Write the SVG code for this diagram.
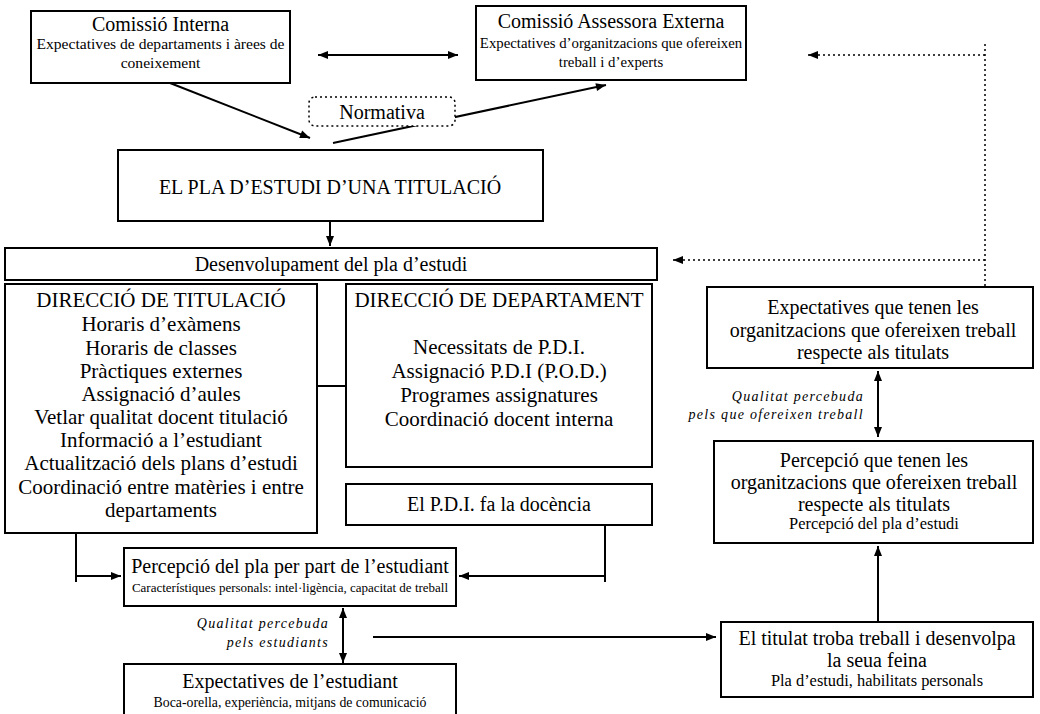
<svg xmlns="http://www.w3.org/2000/svg" width="1040" height="714" viewBox="0 0 1040 714">
<defs>
<marker id="ah" viewBox="0 0 10 10" refX="10" refY="5" markerWidth="11" markerHeight="10" markerUnits="userSpaceOnUse" orient="auto-start-reverse"><path d="M0,1 L10,5 L0,9 z" fill="#000"/></marker>
</defs>
<style>
.box{fill:#fff;stroke:#000;stroke-width:2}
.nb{fill:#fff;stroke:#000;stroke-width:1.5;stroke-dasharray:2 3}
text{font-family:"Liberation Serif","Times New Roman",serif;fill:#000;text-anchor:middle}
.l{font-size:20px}
.x{font-size:21px}
.s{font-size:15.6px}
.se{font-size:14.8px}
.m{font-size:16.4px}
.ss{font-size:13px}
.sb{font-size:13.8px}
.i{font-size:14px;font-style:italic;text-anchor:end;letter-spacing:1.3px}
.c{stroke:#000;stroke-width:2;fill:none}
.d{stroke:#000;stroke-width:1.5;fill:none;stroke-dasharray:2 3}
</style>
<rect width="1040" height="714" fill="#fff"/>
<g id="connectors">
<line class="c" x1="318" y1="55" x2="458" y2="55" marker-start="url(#ah)" marker-end="url(#ah)"/>
<line class="c" x1="170" y1="83" x2="310" y2="138" marker-end="url(#ah)"/>
<line class="c" x1="333" y1="143" x2="606" y2="85" marker-end="url(#ah)"/>
<line class="c" x1="330" y1="221" x2="330" y2="246" marker-end="url(#ah)"/>
<line class="d" x1="985" y1="44" x2="985" y2="286"/>
<line class="d" x1="985" y1="55" x2="808" y2="55" marker-end="url(#ah)"/>
<line class="d" x1="985" y1="260" x2="673" y2="260" marker-end="url(#ah)"/>
<line class="c" x1="300" y1="386" x2="367" y2="386" marker-start="url(#ah)" marker-end="url(#ah)"/>
<line class="c" x1="76" y1="533" x2="76" y2="582"/>
<line class="c" x1="76" y1="576" x2="121" y2="576" marker-end="url(#ah)"/>
<line class="c" x1="605" y1="525" x2="605" y2="582"/>
<line class="c" x1="605" y1="576" x2="459" y2="576" marker-end="url(#ah)"/>
<line class="c" x1="343" y1="608" x2="343" y2="663" marker-start="url(#ah)" marker-end="url(#ah)"/>
<line class="c" x1="373" y1="637" x2="716" y2="637" marker-end="url(#ah)"/>
<line class="c" x1="878" y1="622" x2="878" y2="546" marker-end="url(#ah)"/>
<line class="c" x1="878" y1="371" x2="878" y2="437" marker-start="url(#ah)" marker-end="url(#ah)"/>
<text class="i" x="329" y="628">Qualitat percebuda</text>
<text class="i" x="329" y="647">pels estudiants</text>
<text class="i" x="864" y="401">Qualitat percebuda</text>
<text class="i" x="864" y="419">pels que ofereixen treball</text>
</g>
<g id="n-interna">
<rect class="box" x="31" y="11" width="259" height="72"/>
<text class="l" x="160.5" y="31">Comissió Interna</text>
<text class="s" x="160.5" y="49">Expectatives de departaments i àrees de</text>
<text class="s" x="160.5" y="68">coneixement</text>
</g>
<g id="n-externa">
<rect class="box" x="476" y="6" width="270" height="74"/>
<text class="l" x="611" y="28">Comissió Assessora Externa</text>
<text class="se" x="611" y="48">Expectatives d’organitzacions que ofereixen</text>
<text class="se" x="611" y="67">treball i d’experts</text>
</g>
<g id="n-normativa">
<rect class="nb" x="309" y="97" width="146" height="29" rx="6"/>
<text class="l" x="382" y="119">Normativa</text>
</g>
<g id="n-pla">
<rect class="box" x="118" y="150" width="425" height="71"/>
<text class="l" x="330" y="194">EL PLA D’ESTUDI D’UNA TITULACIÓ</text>
</g>
<g id="n-desenv">
<rect class="box" x="5" y="248" width="652" height="32"/>
<text class="l" x="331" y="271">Desenvolupament del pla d’estudi</text>
</g>
<g id="n-dirtit">
<rect class="box" x="5" y="284" width="312" height="249"/>
<text class="x" x="161" y="307">DIRECCIÓ DE TITULACIÓ</text>
<text class="x" x="161" y="331">Horaris d’exàmens</text>
<text class="x" x="161" y="355">Horaris de classes</text>
<text class="x" x="161" y="378">Pràctiques externes</text>
<text class="x" x="161" y="401">Assignació d’aules</text>
<text class="x" x="161" y="424">Vetlar qualitat docent titulació</text>
<text class="x" x="161" y="447">Informació a l’estudiant</text>
<text class="x" x="161" y="470">Actualització dels plans d’estudi</text>
<text class="x" x="161" y="494">Coordinació entre matèries i entre</text>
<text class="x" x="161" y="517">departaments</text>
</g>
<g id="n-dirdep">
<rect class="box" x="346" y="284" width="306" height="183"/>
<text class="x" x="499" y="307">DIRECCIÓ DE DEPARTAMENT</text>
<text class="x" x="499" y="354">Necessitats de P.D.I.</text>
<text class="x" x="499" y="378">Assignació P.D.I (P.O.D.)</text>
<text class="x" x="499" y="402">Programes assignatures</text>
<text class="x" x="499" y="426">Coordinació docent interna</text>
</g>
<g id="n-pdi">
<rect class="box" x="346" y="484" width="306" height="41"/>
<text class="l" x="499" y="511">El P.D.I. fa la docència</text>
</g>
<g id="n-percest">
<rect class="box" x="124" y="548" width="332" height="58"/>
<text class="l" x="290" y="573">Percepció del pla per part de l’estudiant</text>
<text class="ss" x="290" y="592">Característiques personals: intel·ligència, capacitat de treball</text>
</g>
<g id="n-expest">
<rect class="box" x="124" y="664" width="332" height="60"/>
<text class="l" x="290" y="688">Expectatives de l’estudiant</text>
<text class="sb" x="290" y="707">Boca-orella, experiència, mitjans de comunicació</text>
</g>
<g id="n-exporg">
<rect class="box" x="707" y="287" width="326" height="81"/>
<text class="l" x="873" y="314">Expectatives que tenen les</text>
<text class="l" x="873" y="337">organitzacions que ofereixen treball</text>
<text class="l" x="873" y="359">respecte als titulats</text>
</g>
<g id="n-percorg">
<rect class="box" x="714" y="441" width="319" height="102"/>
<text class="l" x="874" y="467">Percepció que tenen les</text>
<text class="l" x="874" y="489">organitzacions que ofereixen treball</text>
<text class="l" x="874" y="511">respecte als titulats</text>
<text class="m" x="874" y="529">Percepció del pla d’estudi</text>
</g>
<g id="n-titulat">
<rect class="box" x="721" y="622" width="312" height="75"/>
<text class="l" x="877" y="645">El titulat troba treball i desenvolpa</text>
<text class="l" x="877" y="667">la seua feina</text>
<text class="m" x="877" y="686">Pla d’estudi, habilitats personals</text>
</g>
</svg>
